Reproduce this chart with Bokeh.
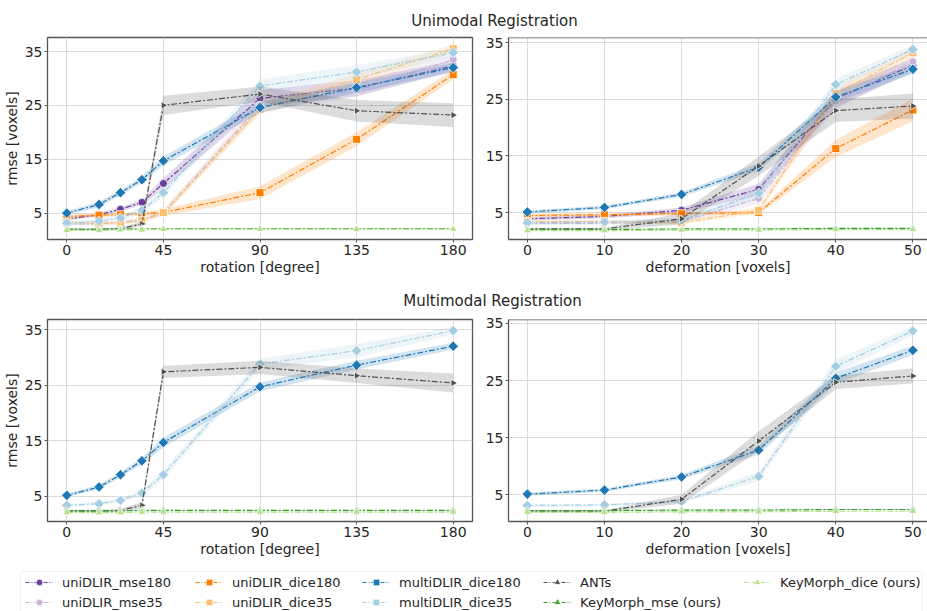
import math
from bokeh.plotting import figure
from bokeh.models import Range1d, Legend, LegendItem, Label, Span, FixedTicker, BoxAnnotation
from bokeh.layouts import column, row
from bokeh.embed import file_html
from bokeh.resources import INLINE

# ---------------- data ----------------
rotation = [0, 15, 25, 35, 45, 90, 135, 180]
deformation = [0, 10, 20, 30, 40, 50]

names = ["uniDLIR_mse180", "uniDLIR_mse35", "uniDLIR_dice180", "uniDLIR_dice35",
         "multiDLIR_dice180", "multiDLIR_dice35", "ANTs",
         "KeyMorph_mse (ours)", "KeyMorph_dice (ours)"]

# Unimodal, rotation
uni_rot_mse180 = [3.9, 4.7, 5.7, 7.0, 10.5, 26.3, 28.2, 32.3]
uni_rot_mse35 = [3.0, 3.0, 3.3, 3.8, 5.0, 25.0, 27.8, 33.5]
uni_rot_dice180 = [4.4, 4.6, 4.7, 4.9, 5.1, 8.8, 18.7, 30.7]
uni_rot_dice35 = [3.3, 3.1, 3.2, 3.6, 5.1, 24.3, 29.8, 35.5]
uni_rot_multi180 = [5.0, 6.6, 8.8, 11.2, 14.7, 24.6, 28.3, 32.0]
uni_rot_multi35 = [3.1, 3.5, 4.1, 5.5, 8.8, 28.6, 31.2, 34.8]
uni_rot_ants = [2.0, 2.0, 2.1, 3.0, 25.0, 27.1, 24.0, 23.2]
uni_rot_km_mse = [2.0, 2.0, 2.0, 2.1, 2.1, 2.1, 2.1, 2.1]
uni_rot_km_dice = [1.8, 1.8, 1.9, 1.9, 2.0, 2.0, 2.0, 2.0]

uni_rot_mse180_ci = [0.3, 0.3, 0.4, 0.5, 1.0, 1.5, 1.5, 1.0]
uni_rot_mse35_ci = [0.3, 0.3, 0.3, 0.4, 0.6, 1.2, 1.2, 0.9]
uni_rot_dice180_ci = [0.3, 0.3, 0.3, 0.3, 0.6, 1.2, 1.3, 0.9]
uni_rot_dice35_ci = [0.3, 0.3, 0.3, 0.3, 0.6, 1.0, 1.2, 0.8]
uni_rot_multi180_ci = [0.4, 0.5, 0.5, 0.6, 0.8, 1.0, 1.0, 0.8]
uni_rot_multi35_ci = [0.3, 0.4, 0.5, 0.6, 0.8, 1.2, 1.3, 0.8]
uni_rot_ants_ci = [0.2, 0.2, 0.3, 0.4, 1.8, 1.4, 2.0, 2.2]
uni_rot_km_ci = [0.1, 0.1, 0.1, 0.1, 0.1, 0.1, 0.1, 0.1]

# Unimodal, deformation
uni_def_mse180 = [3.9, 4.3, 5.4, 9.1, 25.1, 31.0]
uni_def_mse35 = [3.1, 3.1, 3.4, 7.5, 24.6, 31.6]
uni_def_dice180 = [4.5, 4.6, 4.8, 5.0, 16.3, 23.1]
uni_def_dice35 = [3.4, 3.4, 3.2, 5.4, 26.0, 33.2]
uni_def_multi180 = [5.1, 5.9, 8.2, 13.0, 25.4, 30.3]
uni_def_multi35 = [3.2, 3.3, 3.6, 8.4, 27.6, 33.8]
uni_def_ants = [2.1, 2.1, 3.9, 13.2, 23.0, 23.8]
uni_def_km_mse = [2.0, 2.0, 2.1, 2.1, 2.2, 2.2]
uni_def_km_dice = [1.8, 1.8, 1.9, 1.9, 2.0, 2.0]

uni_def_mse180_ci = [0.3, 0.3, 0.5, 1.0, 1.5, 1.2]
uni_def_mse35_ci = [0.3, 0.3, 0.4, 1.0, 1.4, 1.0]
uni_def_dice180_ci = [0.3, 0.3, 0.3, 0.4, 1.5, 2.0]
uni_def_dice35_ci = [0.3, 0.3, 0.3, 0.6, 1.2, 0.9]
uni_def_multi180_ci = [0.3, 0.3, 0.4, 0.7, 1.0, 0.8]
uni_def_multi35_ci = [0.3, 0.3, 0.5, 1.0, 1.0, 0.8]
uni_def_ants_ci = [0.2, 0.2, 1.0, 1.7, 2.0, 2.2]
uni_def_km_ci = [0.1, 0.1, 0.1, 0.1, 0.1, 0.1]

# Multimodal, rotation
mul_rot_multi180 = [5.2, 6.7, 8.9, 11.4, 14.7, 24.7, 28.6, 32.0]
mul_rot_multi35 = [3.4, 3.7, 4.3, 5.6, 8.9, 28.8, 31.2, 34.8]
mul_rot_ants = [2.4, 2.4, 2.5, 3.4, 27.4, 28.2, 26.7, 25.4]
mul_rot_km_mse = [2.4, 2.4, 2.4, 2.5, 2.5, 2.5, 2.5, 2.5]
mul_rot_km_dice = [2.1, 2.1, 2.1, 2.2, 2.2, 2.2, 2.2, 2.2]

mul_rot_multi180_ci = [0.3, 0.4, 0.5, 0.6, 0.9, 0.8, 0.8, 0.6]
mul_rot_multi35_ci = [0.3, 0.3, 0.4, 0.5, 0.8, 1.0, 1.2, 0.7]
mul_rot_ants_ci = [0.2, 0.2, 0.3, 0.6, 1.1, 1.2, 1.3, 1.7]
mul_rot_km_ci = [0.1, 0.1, 0.1, 0.1, 0.1, 0.1, 0.1, 0.1]

# Multimodal, deformation
mul_def_multi180 = [5.1, 5.8, 8.1, 12.8, 25.4, 30.3]
mul_def_multi35 = [3.1, 3.2, 3.8, 8.2, 27.5, 33.7]
mul_def_ants = [2.1, 2.1, 4.2, 14.4, 24.7, 25.8]
mul_def_km_mse = [2.2, 2.2, 2.3, 2.3, 2.4, 2.4]
mul_def_km_dice = [1.9, 1.9, 2.0, 2.0, 2.1, 2.1]

mul_def_multi180_ci = [0.3, 0.3, 0.4, 0.8, 1.0, 0.8]
mul_def_multi35_ci = [0.2, 0.2, 0.3, 0.8, 1.2, 0.8]
mul_def_ants_ci = [0.2, 0.2, 0.8, 1.7, 1.2, 1.3]
mul_def_km_ci = [0.1, 0.1, 0.1, 0.1, 0.1, 0.1]

rotation_ticks = [0, 45, 90, 135, 180]
deformation_ticks = [0, 10, 20, 30, 40, 50]
rmse_ticks = [5, 15, 25, 35]

# ---------------- styles ----------------
FONT = "DejaVu Sans"
TXT = "#262626"
SPINE = "#555555"
GRID = "#dadada"
DASH = "6 2 2 2"

style = {
    "uniDLIR_mse180": dict(color="#6a3d9a", marker="circle", size=8, angle=0.0),
    "uniDLIR_mse35": dict(color="#cab2d6", marker="circle", size=8, angle=0.0),
    "uniDLIR_dice180": dict(color="#ff7f00", marker="square", size=8, angle=0.0),
    "uniDLIR_dice35": dict(color="#fdbf6f", marker="square", size=8, angle=0.0),
    "multiDLIR_dice180": dict(color="#1f78b4", marker="square", size=7.5, angle=math.pi / 4),
    "multiDLIR_dice35": dict(color="#a6cee3", marker="square", size=7.5, angle=math.pi / 4),
    "ANTs": dict(color="#505050", marker="triangle", size=7.5, angle=-math.pi / 2),
    "KeyMorph_mse (ours)": dict(color="#33a02c", marker="triangle", size=7.5, angle=0.0),
    "KeyMorph_dice (ours)": dict(color="#b2df8a", marker="triangle", size=7.5, angle=0.0),
}

uni_rot = {
    "uniDLIR_mse180": (uni_rot_mse180, uni_rot_mse180_ci),
    "uniDLIR_mse35": (uni_rot_mse35, uni_rot_mse35_ci),
    "uniDLIR_dice180": (uni_rot_dice180, uni_rot_dice180_ci),
    "uniDLIR_dice35": (uni_rot_dice35, uni_rot_dice35_ci),
    "multiDLIR_dice180": (uni_rot_multi180, uni_rot_multi180_ci),
    "multiDLIR_dice35": (uni_rot_multi35, uni_rot_multi35_ci),
    "ANTs": (uni_rot_ants, uni_rot_ants_ci),
    "KeyMorph_mse (ours)": (uni_rot_km_mse, uni_rot_km_ci),
    "KeyMorph_dice (ours)": (uni_rot_km_dice, uni_rot_km_ci),
}
uni_def = {
    "uniDLIR_mse180": (uni_def_mse180, uni_def_mse180_ci),
    "uniDLIR_mse35": (uni_def_mse35, uni_def_mse35_ci),
    "uniDLIR_dice180": (uni_def_dice180, uni_def_dice180_ci),
    "uniDLIR_dice35": (uni_def_dice35, uni_def_dice35_ci),
    "multiDLIR_dice180": (uni_def_multi180, uni_def_multi180_ci),
    "multiDLIR_dice35": (uni_def_multi35, uni_def_multi35_ci),
    "ANTs": (uni_def_ants, uni_def_ants_ci),
    "KeyMorph_mse (ours)": (uni_def_km_mse, uni_def_km_ci),
    "KeyMorph_dice (ours)": (uni_def_km_dice, uni_def_km_ci),
}
mul_rot = {
    "multiDLIR_dice180": (mul_rot_multi180, mul_rot_multi180_ci),
    "multiDLIR_dice35": (mul_rot_multi35, mul_rot_multi35_ci),
    "ANTs": (mul_rot_ants, mul_rot_ants_ci),
    "KeyMorph_mse (ours)": (mul_rot_km_mse, mul_rot_km_ci),
    "KeyMorph_dice (ours)": (mul_rot_km_dice, mul_rot_km_ci),
}
mul_def = {
    "multiDLIR_dice180": (mul_def_multi180, mul_def_multi180_ci),
    "multiDLIR_dice35": (mul_def_multi35, mul_def_multi35_ci),
    "ANTs": (mul_def_ants, mul_def_ants_ci),
    "KeyMorph_mse (ours)": (mul_def_km_mse, mul_def_km_ci),
    "KeyMorph_dice (ours)": (mul_def_km_dice, mul_def_km_ci),
}

W = 927
LEFT_W = 482


def make_panel(xs, series, xr, yr, xticks, xlabel, ylabel, width, height, bl, br, bt, left_panel):
    p = figure(width=width, height=height, x_range=Range1d(*xr), y_range=Range1d(*yr),
               output_backend="svg", toolbar_location=None,
               min_border_left=bl, min_border_right=br, min_border_top=bt, min_border_bottom=40)
    p.background_fill_color = "white"
    p.border_fill_color = "white"
    p.xaxis.ticker = FixedTicker(ticks=xticks)
    p.yaxis.ticker = FixedTicker(ticks=rmse_ticks)
    p.grid.grid_line_color = GRID
    p.grid.grid_line_width = 1
    for ax in (p.xaxis, p.yaxis):
        ax.major_label_text_font = FONT
        ax.major_label_text_font_size = "14px"
        ax.major_label_text_color = TXT
        ax.major_tick_out = 3
        ax.major_tick_in = 0
        ax.minor_tick_out = 0
        ax.minor_tick_in = 0
        ax.major_tick_line_color = SPINE
        ax.major_label_standoff = 2
        ax.axis_label_text_font = FONT
        ax.axis_label_text_font_size = "14px"
        ax.axis_label_text_font_style = "normal"
        ax.axis_label_text_color = TXT
        ax.axis_label_standoff = 1
    p.xaxis.axis_label = xlabel
    if ylabel:
        p.yaxis.axis_label = ylabel
        p.yaxis.axis_label_standoff = 2
    if left_panel:
        p.outline_line_color = SPINE
        p.outline_line_width = 1.3
        p.xaxis.axis_line_color = None
        p.yaxis.axis_line_color = None
    else:
        p.outline_line_color = None
        p.xaxis.axis_line_color = SPINE
        p.yaxis.axis_line_color = SPINE
        p.xaxis.axis_line_width = 1.3
        p.yaxis.axis_line_width = 1.3
        p.add_layout(Span(location=yr[1], dimension="width", line_color=SPINE, line_width=1.3))

    for name in names:
        if name not in series:
            continue
        ys, ci = series[name]
        st = style[name]
        lo = [a - b for a, b in zip(ys, ci)]
        hi = [a + b for a, b in zip(ys, ci)]
        p.varea(x=xs, y1=lo, y2=hi, fill_color=st["color"], fill_alpha=0.2)
        p.line(x=xs, y=ys, line_color=st["color"], line_width=1.2, line_dash=DASH)
        p.scatter(x=xs, y=ys, marker=st["marker"], size=st["size"], angle=st["angle"],
                  fill_color=st["color"], line_color="white", line_width=0.8)
    return p


# top row: frame y 37..239 ; bottom row: frame y 319..521
p1 = make_panel(rotation, uni_rot, (-9, 189), (0.1, 37.6), rotation_ticks,
                "rotation [degree]", "rmse [voxels]", LEFT_W, 249, 46, 10, 7, True)
p2 = make_panel(deformation, uni_def, (-2.45, 51.9), (0.24, 35.9), deformation_ticks,
                "deformation [voxels]", None, W - LEFT_W, 249, 24, 0, 7, False)
p3 = make_panel(rotation, mul_rot, (-9, 189), (0.5, 36.8), rotation_ticks,
                "rotation [degree]", "rmse [voxels]", LEFT_W, 250, 46, 10, 8, True)
p4 = make_panel(deformation, mul_def, (-2.45, 51.9), (0.3, 35.7), deformation_ticks,
                "deformation [voxels]", None, W - LEFT_W, 250, 24, 0, 8, False)


def blank(width, height, xr=(0, 1)):
    f = figure(width=width, height=height, x_range=Range1d(*xr), y_range=Range1d(0, 1),
               output_backend="svg", toolbar_location=None, min_border=0)
    f.axis.visible = False
    f.grid.visible = False
    f.outline_line_color = None
    f.background_fill_color = "white"
    f.border_fill_color = "white"
    return f


def title_fig(text, height, yc, xc):
    f = blank(W, height)
    f.add_layout(Label(x=xc, y=yc, x_units="screen", y_units="screen", text=text,
                       text_align="center", text_baseline="middle", text_font=FONT,
                       text_font_size="15px", text_color=TXT))
    return f


t1 = title_fig("Unimodal Registration", 30, 10, 494)
t2 = title_fig("Multimodal Registration", 32, 11, 492)

# legend panel: sample renderers use the real series but lie outside the visible range
LEG_H = 50
pl = blank(W, LEG_H, xr=(-1000, -999))
legend_columns = [["uniDLIR_mse180", "uniDLIR_mse35"],
                  ["uniDLIR_dice180", "uniDLIR_dice35"],
                  ["multiDLIR_dice180", "multiDLIR_dice35"],
                  ["ANTs", "KeyMorph_mse (ours)"],
                  ["KeyMorph_dice (ours)"]]
legend_x = [25, 195, 362, 543, 743]
pl.add_layout(BoxAnnotation(left=20, right=922, top=LEG_H - 10, bottom=-8,
                            left_units="screen", right_units="screen",
                            top_units="screen", bottom_units="screen",
                            fill_color=None, fill_alpha=0, line_color="#cccccc", line_width=1,
                            border_radius=3))
for col, lx in zip(legend_columns, legend_x):
    items = []
    for name in col:
        st = style[name]
        ys = uni_rot[name][0]
        r1 = pl.line(x=rotation, y=ys, line_color=st["color"], line_width=1.2, line_dash="4 2 1 2")
        r2 = pl.scatter(x=rotation, y=ys, marker=st["marker"], size=st["size"] * 0.75,
                        angle=st["angle"], fill_color=st["color"], line_color="white", line_width=0.6)
        items.append(LegendItem(label=name, renderers=[r1, r2]))
    n = len(col)
    leg = Legend(items=items, orientation="vertical", location=(lx, LEG_H - 13 - (16 * n + 4 * (n - 1))),
                 label_text_font=FONT, label_text_font_size="13px", label_text_color=TXT,
                 glyph_width=28, glyph_height=16, label_height=16, label_standoff=9,
                 spacing=4, padding=0, margin=0, border_line_color=None,
                 background_fill_alpha=0)
    pl.add_layout(leg, "center")

layout = column(t1, row(p1, p2), t2, row(p3, p4), pl)

with open("out.html", "w") as fh:
    fh.write(file_html(layout, INLINE))
